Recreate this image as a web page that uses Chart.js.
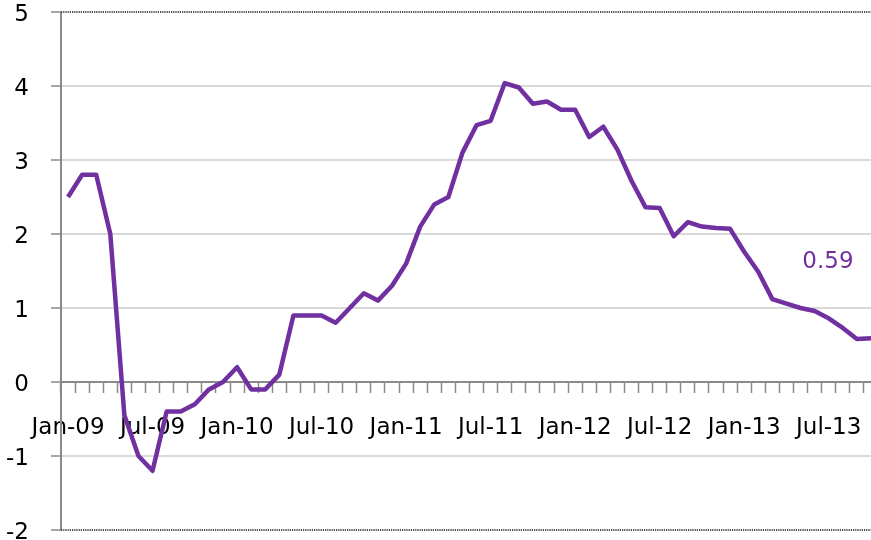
<!DOCTYPE html>
<html>
<head>
<meta charset="utf-8">
<script src="https://cdn.jsdelivr.net/npm/chart.js@4/dist/chart.umd.min.js"></script>
<style>
    html, body { margin: 0; padding: 0; background: #ffffff; overflow: hidden; }
    #wrap { position: relative; width: 878px; height: 542px; }
</style>
</head>
<body>
<div id="wrap"><canvas id="chart"></canvas></div>
<script>
const months = [
    'Jan-09', 'Feb-09', 'Mar-09', 'Apr-09', 'May-09', 'Jun-09', 'Jul-09', 'Aug-09', 'Sep-09', 'Oct-09', 'Nov-09', 'Dec-09',
    'Jan-10', 'Feb-10', 'Mar-10', 'Apr-10', 'May-10', 'Jun-10', 'Jul-10', 'Aug-10', 'Sep-10', 'Oct-10', 'Nov-10', 'Dec-10',
    'Jan-11', 'Feb-11', 'Mar-11', 'Apr-11', 'May-11', 'Jun-11', 'Jul-11', 'Aug-11', 'Sep-11', 'Oct-11', 'Nov-11', 'Dec-11',
    'Jan-12', 'Feb-12', 'Mar-12', 'Apr-12', 'May-12', 'Jun-12', 'Jul-12', 'Aug-12', 'Sep-12', 'Oct-12', 'Nov-12', 'Dec-12',
    'Jan-13', 'Feb-13', 'Mar-13', 'Apr-13', 'May-13', 'Jun-13', 'Jul-13', 'Aug-13', 'Sep-13', 'Oct-13'
];

const values = [
    2.5, 2.8, 2.8, 2.0, -0.45, -1.0, -1.2, -0.4, -0.4, -0.3, -0.1, 0.0,
    0.2, -0.1, -0.1, 0.1, 0.9, 0.9, 0.9, 0.8, 1.0, 1.2, 1.1, 1.3,
    1.6, 2.1, 2.4, 2.5, 3.1, 3.47, 3.53, 4.04, 3.98, 3.76, 3.79, 3.68,
    3.68, 3.31, 3.45, 3.14, 2.72, 2.36, 2.35, 1.97, 2.16, 2.10, 2.08, 2.07,
    1.76, 1.49, 1.12, 1.06, 1.00, 0.96, 0.86, 0.73, 0.58, 0.59
];

// only every 6th month gets a label
const labelEvery = 6;
const yMin = -2;
const yMax = 5;

const purple = '#7030a0';
const axisGrey = '#8a8a8a';
const font = 'DejaVu Sans';

// dotted top and bottom border of the plot area
const plotBorder = {
    id: 'plotBorder',
    beforeDatasetsDraw(chart) {
        let ctx = chart.ctx;
        let area = chart.chartArea;
        ctx.save();
        ctx.strokeStyle = '#4a4a4a';
        ctx.lineWidth = 2;
        ctx.setLineDash([1.2, 1]);
        ctx.beginPath();
        ctx.moveTo(area.left, area.top);
        ctx.lineTo(area.right, area.top);
        ctx.moveTo(area.left, area.bottom);
        ctx.lineTo(area.right, area.bottom);
        ctx.stroke();
        ctx.restore();
    }
};

// value label for the last point
const lastLabel = {
    id: 'lastLabel',
    afterDatasetsDraw(chart) {
        let ctx = chart.ctx;
        let last = values.length - 1;
        let x = chart.scales.x.getPixelForValue(last);
        let y = chart.scales.y.getPixelForValue(values[last]);
        ctx.save();
        ctx.fillStyle = purple;
        ctx.font = '23px "' + font + '"';
        ctx.textAlign = 'center';
        ctx.textBaseline = 'middle';
        ctx.fillText(values[last].toFixed(2), x - 43, y - 76);
        ctx.restore();
    }
};

// the tick labels may hang over the edge, like the cropped original
function noLabelPadding(scale) {
    scale.paddingTop = 0;
    scale.paddingBottom = 0;
    scale.paddingLeft = 0;
    scale.paddingRight = 0;
}

let ctx = document.getElementById('chart').getContext('2d');
let chart = new Chart(ctx, {
    type: 'line',
    data: {
        labels: months,
        datasets: [
            {
                label: 'series',
                data: values,
                borderColor: purple,
                backgroundColor: 'transparent',
                borderWidth: 4.5,
                borderJoinStyle: 'round',
                pointRadius: 0,
                pointHoverRadius: 0,
                tension: 0
            }
        ]
    },
    options: {
        responsive: true,
        maintainAspectRatio: false,
        animation: false,
        layout: { padding: { left: 0, right: 0, top: 12, bottom: 12 } },
        plugins: {
            legend: { display: false },
            tooltip: { enabled: false }
        },
        scales: {
            x: {
                type: 'category',
                position: { y: 0 },
                offset: true,
                afterFit: noLabelPadding,
                grid: {
                    offset: true,
                    drawOnChartArea: false,
                    drawTicks: true,
                    tickLength: 10,
                    tickColor: axisGrey,
                    tickWidth: 1.5
                },
                border: { display: true, color: axisGrey, width: 2 },
                ticks: {
                    autoSkip: false,
                    maxRotation: 0,
                    minRotation: 0,
                    padding: 22,
                    color: '#000000',
                    font: { family: font, size: 23 },
                    callback: function (value, index) {
                        return index % labelEvery === 0 ? months[index] : '';
                    }
                }
            },
            y: {
                min: yMin,
                max: yMax,
                afterFit: function (scale) {
                    noLabelPadding(scale);
                    scale.width = 61;
                },
                grid: {
                    color: function (c) {
                        if (c.tick && (c.tick.value === yMin || c.tick.value === yMax)) return 'transparent';
                        return '#d9d9d9';
                    },
                    lineWidth: 2,
                    tickLength: 10,
                    tickColor: axisGrey,
                    tickWidth: 1.5
                },
                border: { display: true, color: axisGrey, width: 2 },
                ticks: {
                    stepSize: 1,
                    padding: 22,
                    labelOffset: 3,
                    color: '#000000',
                    font: { family: font, size: 23, lineHeight: 1 }
                }
            }
        }
    },
    plugins: [plotBorder, lastLabel]
});
</script>
</body>
</html>
